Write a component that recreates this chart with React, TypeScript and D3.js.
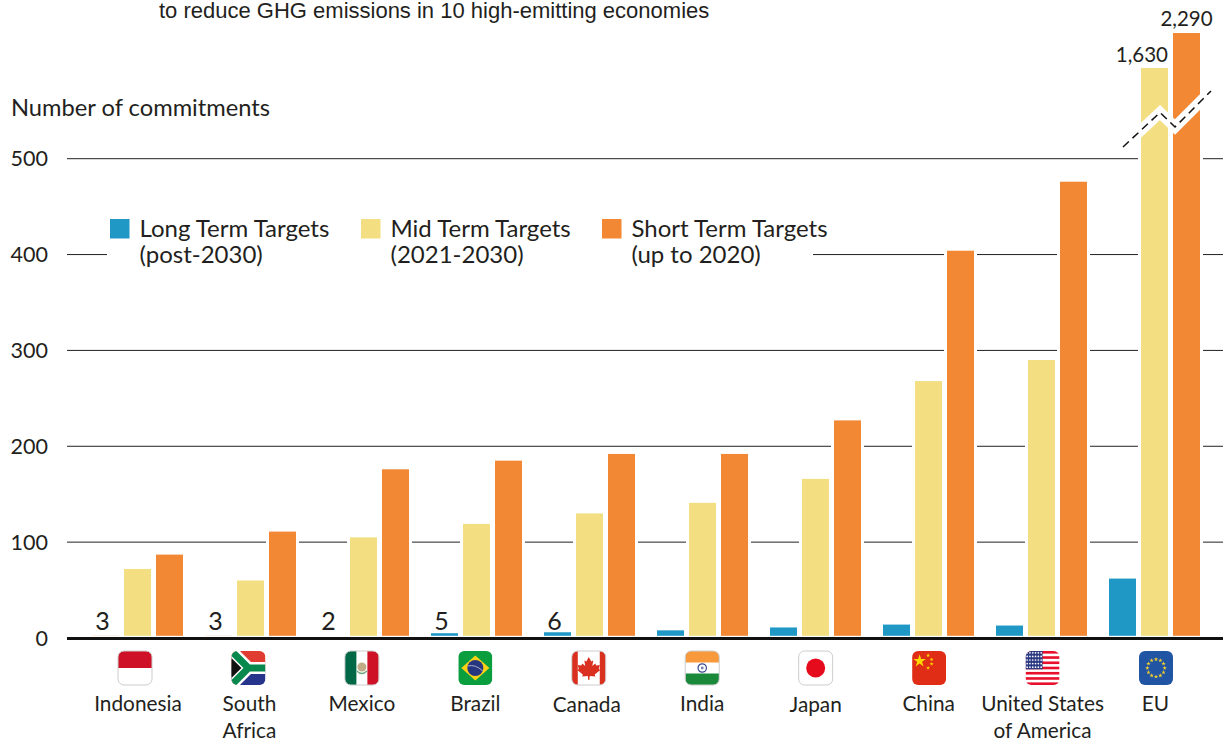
import React from 'react';
import * as d3 from 'd3';

const countries = ['Indonesia', 'South Africa', 'Mexico', 'Brazil', 'Canada', 'India', 'Japan', 'China', 'United States of America', 'EU'];
const countryLines = [['Indonesia'], ['South', 'Africa'], ['Mexico'], ['Brazil'], ['Canada'], ['India'], ['Japan'], ['China'], ['United States', 'of America'], ['EU']];
const longTerm = [3, 3, 2, 5, 6, 8, 11, 14, 13, 62];
const midTerm = [72, 60, 105, 119, 130, 141, 166, 268, 290, 1630];
const shortTerm = [87, 111, 176, 185, 192, 192, 227, 404, 476, 2290];
const yTicks = [0, 100, 200, 300, 400, 500];
const seriesKeys = ['long', 'mid', 'short'];
const seriesColors = ['#2098c6', '#f3df82', '#f28734'];
const legendTop = ['Long Term Targets', 'Mid Term Targets', 'Short Term Targets'];
const legendBottom = ['(post-2030)', '(2021-2030)', '(up to 2020)'];

const FONT = 'Lato, sans-serif';
const INK = '#231f20';
const W = 1227;
const H = 743;

// piecewise scale: the top segment is the broken part of the axis
const y = d3.scaleLinear().domain([0, 500, 1630, 2290]).range([638, 158.7, 68, 33]);
const xGroup = d3.scaleBand().domain(countries).range([92, 1200]).paddingInner(22 / 113).paddingOuter(0);
const xBar = d3.scaleBand().domain(seriesKeys).range([0, xGroup.bandwidth()]).paddingInner(5 / 32);
const xFlag = d3.scalePoint().domain(countries).range([135, 1156]);
const BAR_BASE = 635.8;

// the names are not quite centred under the flags in the original
const labelNudgeX = [3, 1, 0, 0, -2, 0, 0, -0.5, 0, -0.5];
const labelNudgeY = [0, 0, 0, 0, 1, 0, 1, 0, 0, 0];

const FlagIndonesia = () => (<>
  <rect width={34} height={34} fill="#fff" />
  <rect width={34} height={17} fill="#ce1126" />
</>);

const FlagSouthAfrica = () => (<>
  <rect width={34} height={17} fill="#e03c31" />
  <rect y={17} width={34} height={17} fill="#27348b" />
  <path d="M0 0 L17 17 L0 34 Z" fill="#111" />
  <path d="M0 0 L17 17 L0 34" fill="none" stroke="#f6b22c" strokeWidth={7} />
  <path d="M0 0 L17 17 L34 17 M0 34 L17 17" fill="none" stroke="#fff" strokeWidth={12} />
  <path d="M0 0 L17 17 L34 17 M0 34 L17 17" fill="none" stroke="#07894e" strokeWidth={7} />
  <path d="M0 7 L10 17 L0 27 Z" fill="#111" />
</>);

const FlagMexico = () => (<>
  <rect width={34} height={34} fill="#fff" />
  <rect width={11.5} height={34} fill="#006847" />
  <rect x={22.5} width={11.5} height={34} fill="#ce1126" />
  <circle cx={17} cy={16} r={4.5} fill="#a98f5c" opacity={0.75} />
  <path d="M12 20 Q17 25 22 20" fill="none" stroke="#6aa67f" strokeWidth={1.3} />
</>);

const FlagBrazil = () => (<>
  <rect width={34} height={34} fill="#0a9e3f" />
  <path d="M17 4.5 L31 17 L17 29.5 L3 17 Z" fill="#fcd116" />
  <circle cx={17} cy={17} r={8} fill="#26357f" />
  <path d="M9.5 15 Q17 13 24.5 20" fill="none" stroke="#ccd" strokeWidth={0.8} />
</>);

const FlagCanada = () => (<>
  <rect width={34} height={34} fill="#fff" />
  <rect width={6} height={34} fill="#d9301f" />
  <rect x={28} width={6} height={34} fill="#d9301f" />
  <path d="M17 6 L19.5 10.5 L21.5 9.5 L20.5 15 L23.5 12.5 L24.5 14.5 L28 14 L27 18 L28.5 19 L23 23.5 L23.5 25.5 L18 25 L17.5 29 L16.5 29 L16 25 L10.5 25.5 L11 23.5 L5.5 19 L7 18 L6 14 L9.5 14.5 L10.5 12.5 L13.5 15 L12.5 9.5 L14.5 10.5 Z" fill="#d9301f" />
</>);

const FlagIndia = () => (<>
  <rect width={34} height={34} fill="#fff" />
  <rect width={34} height={11.5} fill="#f89a3b" />
  <rect y={22.5} width={34} height={11.5} fill="#1a8a3a" />
  <circle cx={17} cy={17} r={4.2} fill="none" stroke="#3b4a8f" strokeWidth={1.2} />
  <circle cx={17} cy={17} r={1.4} fill="#7580b0" />
</>);

const FlagJapan = () => (<>
  <rect width={34} height={34} fill="#fff" />
  <circle cx={17} cy={17} r={9.5} fill="#e60b1c" />
</>);

const star = (size: number) => d3.symbol().type(d3.symbolStar).size(size)() as string;

const FlagChina = () => (<>
  <rect width={34} height={34} fill="#e02d16" />
  <path d={star(50)} transform="translate(7.5,10)" fill="#ffd800" />
  {[[16, 4.5], [19.5, 8.5], [19.5, 13], [16, 17]].map(([sx, sy], i) => (
    <path key={i} d={star(5)} transform={`translate(${sx},${sy})`} fill="#ffd800" />
  ))}
</>);

const FlagUSA = () => {
  const rows = d3.range(5);
  const cols = d3.range(6);
  return (<>
    <rect width={34} height={34} fill="#fff" />
    {d3.range(0, 13, 2).map(i => (
      <rect key={i} y={i * 34 / 13} width={34} height={34 / 13} fill="#e8112d" />
    ))}
    <rect width={17} height={18.3} fill="#2b3a82" />
    {rows.map(r => cols.map(c => (
      <circle key={`${r}-${c}`} cx={1.6 + c * 2.8} cy={1.8 + r * 3.6} r={0.85} fill="#fff" />
    )))}
  </>);
};

const FlagEU = () => (<>
  <rect width={34} height={34} fill="#2254a4" />
  {d3.range(12).map(i => {
    const a = (i / 12) * 2 * Math.PI;
    return <path key={i} d={star(6)} transform={`translate(${17 + 8.7 * Math.sin(a)},${17 - 8.7 * Math.cos(a)})`} fill="#f5cf2c" />;
  })}
</>);

const flags = [FlagIndonesia, FlagSouthAfrica, FlagMexico, FlagBrazil, FlagCanada, FlagIndia, FlagJapan, FlagChina, FlagUSA, FlagEU];
const flagBorder = [true, false, true, false, true, true, true, false, false, false];
const smallNumbers = [0, 1, 2, 3, 4];

const breakLine = d3.line()([[1123, 147], [1160, 112.5], [1175, 127], [1211, 91]]) as string;

export default function App() {
  const series = [longTerm, midTerm, shortTerm];
  return (
    <svg width={W} height={H} style={{ position: 'absolute', left: 0, top: 0, fontFamily: FONT }}>
      <text x={159} y={18} fontSize={22} fontFamily="'Liberation Sans', sans-serif" fill={INK}>to reduce GHG emissions in 10 high-emitting economies</text>
      <text x={11} y={116} fontSize={23.7} fill={INK}>Number of commitments</text>

      {/* grid */}
      {yTicks.filter(t => t > 0).map(t => (
        <line key={t} x1={67} x2={1223} y1={y(t)} y2={y(t)} stroke="#222" strokeWidth={1} />
      ))}
      {yTicks.map(t => (
        <text key={t} x={48} y={y(t) + 7.5} fontSize={21.5} textAnchor="end" fill={INK}>{t}</text>
      ))}

      {/* legend sits on a white box that cuts the 400 line */}
      <rect x={107} y={210} width={706} height={64} fill="#fff" />
      {seriesKeys.map((k, i) => {
        const lx = [110, 361, 602][i];
        return (
          <g key={k}>
            <rect x={lx} y={219} width={19.5} height={19.5} fill={seriesColors[i]} />
            <text x={lx + 29.5} y={237} fontSize={24} fill={INK}>{legendTop[i]}</text>
            <text x={lx + 29.5} y={263} fontSize={24} fill={INK}>{legendBottom[i]}</text>
          </g>
        );
      })}

      {/* bars, each on a white halo so the grid stops short of it */}
      {countries.map((c, ci) => (
        <g key={c} transform={`translate(${xGroup(c)},0)`}>
          {seriesKeys.map((k, si) => {
            const top = y(series[si][ci]);
            return (
              <rect key={k} x={(xBar(k) as number) - 3} y={top} width={xBar.bandwidth() + 6} height={BAR_BASE - top} fill="#fff" />
            );
          })}
          {seriesKeys.map((k, si) => {
            const v = series[si][ci];
            const top = y(v);
            // the smallest long-term bars are only a faint sliver in the original
            const faint = si === 0 && v <= 3;
            return (
              <rect key={k} x={xBar(k)} y={top} width={xBar.bandwidth()} height={BAR_BASE - top}
                fill={faint ? '#f28734' : seriesColors[si]} fillOpacity={faint ? 0.2 : 1} />
            );
          })}
        </g>
      ))}

      {/* axis break */}
      <path d={breakLine} fill="none" stroke="#fff" strokeWidth={11} />
      <path d={breakLine} fill="none" stroke="#111" strokeWidth={1.5} strokeDasharray="8 5" />

      <line x1={67} x2={1223} y1={y(0) + 0.5} y2={y(0) + 0.5} stroke="#111" strokeWidth={3} />

      {/* value labels */}
      {smallNumbers.map(i => (
        <text key={i} x={(xGroup(countries[i]) as number) + (xBar('long') as number) + xBar.bandwidth() / 2 - 3}
          y={630} fontSize={25} textAnchor="middle" fill={INK}>{longTerm[i]}</text>
      ))}
      <text x={(xGroup('EU') as number) + (xBar('mid') as number) + xBar.bandwidth()} y={62} fontSize={20.5} textAnchor="end" fill={INK}>{d3.format(',')(midTerm[9])}</text>
      <text x={(xGroup('EU') as number) + (xBar('short') as number) + xBar.bandwidth() / 2} y={26} fontSize={20.5} textAnchor="middle" fill={INK}>{d3.format(',')(shortTerm[9])}</text>

      {/* flags and names */}
      <defs>
        <clipPath id="flag-clip"><rect width={34} height={34} rx={6} /></clipPath>
      </defs>
      {countries.map((c, i) => {
        const Flag = flags[i];
        return (
          <g key={c} transform={`translate(${xFlag(c)},0)`}>
            <g transform="translate(-17,651)">
              <g clipPath="url(#flag-clip)"><Flag /></g>
              {flagBorder[i] && <rect width={34} height={34} rx={6} fill="none" stroke="#ccc" strokeWidth={1} />}
            </g>
            {countryLines[i].map((line, li) => (
              <text key={line} x={labelNudgeX[i]} y={711 + labelNudgeY[i] + li * 27} fontSize={20.8} textAnchor="middle" fill={INK}>{line}</text>
            ))}
          </g>
        );
      })}
    </svg>
  );
}
